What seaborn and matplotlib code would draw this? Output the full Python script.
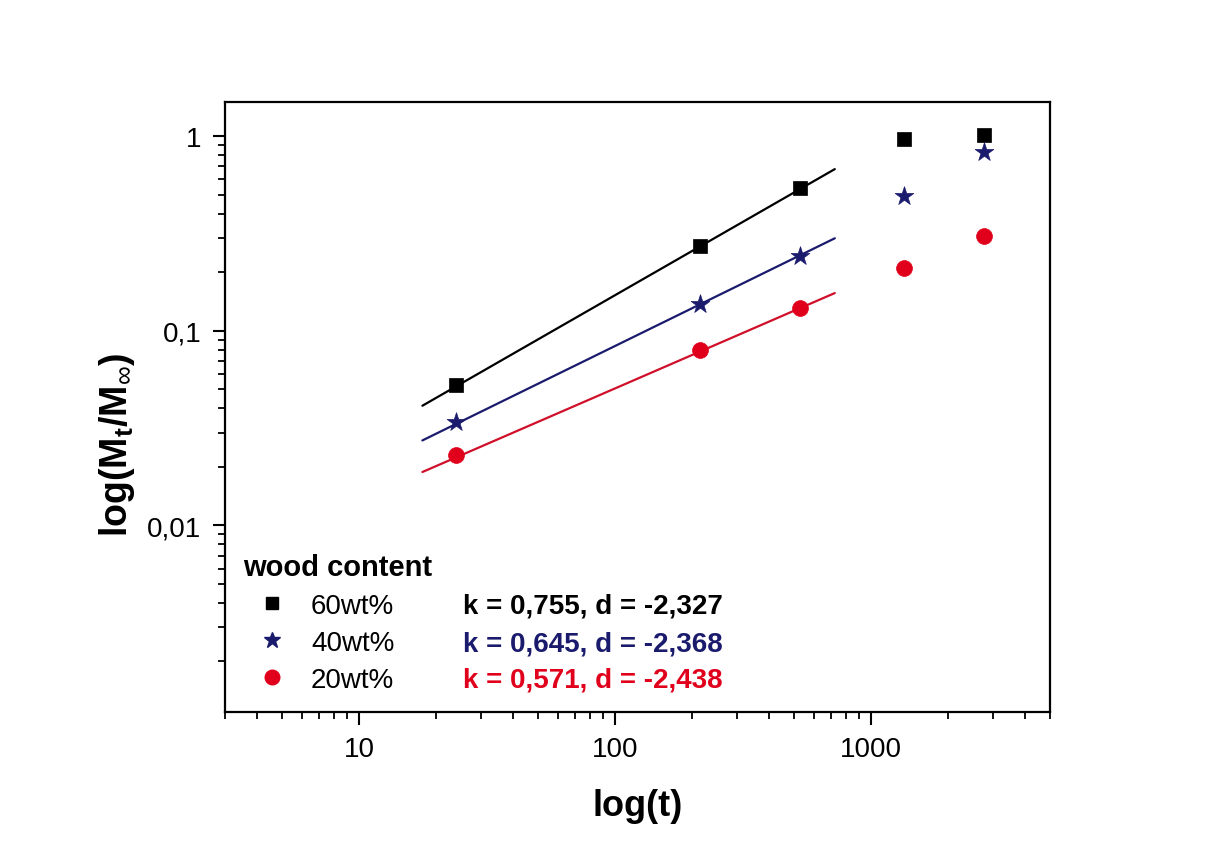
import numpy as np
import pandas as pd
import matplotlib
matplotlib.use("Agg")
import matplotlib.pyplot as plt
from matplotlib.ticker import FixedLocator, FuncFormatter, LogLocator, NullFormatter
from matplotlib.lines import Line2D
import seaborn as sns

# ---- data ----
series = ["60wt%", "40wt%", "20wt%"]
t_hours = [24, 215, 530, 1346, 2750]
m_60 = [0.0528, 0.273, 0.541, 0.965, 1.01]
m_40 = [0.0340, 0.1375, 0.2424, 0.492, 0.828]
m_20 = [0.0229, 0.0799, 0.131, 0.210, 0.307]
fit_k = [0.755, 0.645, 0.571]
fit_d = [-2.327, -2.368, -2.438]
fit_range = [17.7, 722]
x_ticks = [10, 100, 1000]
y_ticks = [0.01, 0.1, 1]

colors = ["#000000", "#1b1b6e", "#e0001b"]
line_colors = ["#000000", "#1b1b6e", "#d0102a"]
markers = ["s", "*", "o"]
msizes = [100, 200, 130]

sns.set_theme(style="ticks")
plt.rcParams["font.family"] = ["Liberation Sans", "DejaVu Sans"]
plt.rcParams["mathtext.fontset"] = "custom"
plt.rcParams["mathtext.rm"] = "Liberation Sans"
plt.rcParams["mathtext.bf"] = "Liberation Sans:bold"
plt.rcParams["mathtext.it"] = "Liberation Sans:italic"
for key in ["text.color", "axes.labelcolor", "xtick.color", "ytick.color",
            "axes.edgecolor"]:
    plt.rcParams[key] = "black"

fig = plt.figure(figsize=(12.15, 8.45), dpi=100)
fig.patch.set_facecolor("white")
ax = fig.add_axes([225 / 1215, 1 - 713 / 845, 825 / 1215, 610 / 845])
ax.set_facecolor("white")

values = [m_60, m_40, m_20]
for name, vals, c, lc, mk, ms, k, d in zip(series, values, colors, line_colors,
                                            markers, msizes, fit_k, fit_d):
    fit_df = pd.DataFrame({"t": fit_range,
                           "M": [10 ** d * tt ** k for tt in fit_range]})
    sns.lineplot(data=fit_df, x="t", y="M", color=lc, linewidth=1.6, ax=ax,
                 zorder=2)
    df = pd.DataFrame({"t": t_hours, "M": vals})
    sns.scatterplot(data=df, x="t", y="M", color=c, marker=mk, s=ms,
                    edgecolor=c, linewidth=0.5, ax=ax, zorder=3)

ax.set_xscale("log")
ax.set_yscale("log")
ax.set_xlim(3, 5000)
ax.set_ylim(0.0011, 1.5)

ax.xaxis.set_major_locator(FixedLocator(x_ticks))
ax.yaxis.set_major_locator(FixedLocator(y_ticks))
ax.xaxis.set_minor_locator(LogLocator(base=10, subs=np.arange(2, 10)))
ax.yaxis.set_minor_locator(LogLocator(base=10, subs=np.arange(2, 10)))
fmt = FuncFormatter(lambda v, p: ("%g" % v).replace(".", ","))
ax.xaxis.set_major_formatter(fmt)
ax.yaxis.set_major_formatter(fmt)
ax.xaxis.set_minor_formatter(NullFormatter())
ax.yaxis.set_minor_formatter(NullFormatter())

for s in ax.spines.values():
    s.set_linewidth(1.6)
    s.set_color("black")
ax.tick_params(which="major", direction="out", length=9, width=1.5,
               labelsize=20, pad=8, colors="black", top=False, right=False)
ax.tick_params(which="minor", direction="out", length=5, width=1.3,
               top=False, right=False, colors="black")

ax.set_xlabel("log(t)", fontsize=26, fontweight="bold", color="black")
ax.set_ylabel(r"log(M$_{\mathbf{t}}$/M$_{\infty}$)", fontsize=27,
              fontweight="bold", color="black")
ax.xaxis.set_label_coords(0.5, -0.125)
ax.yaxis.set_label_coords(-0.107, 0.44)

handles = [Line2D([], [], linestyle="none", marker=mk, color=c,
                  markersize=ms_, markeredgecolor=c)
           for mk, c, ms_ in zip(markers, colors, [9, 12, 10.5])]
leg = ax.legend(handles, series, title="wood content", loc="upper left",
                bbox_to_anchor=(0.0218, 0.26), frameon=False, fontsize=20,
                title_fontproperties={"weight": "bold", "size": 21},
                alignment="left", borderpad=0, borderaxespad=0,
                handlelength=2.1, handletextpad=0.35, labelspacing=0.4,
                labelcolor="black")
leg.get_title().set_color("black")

ytxt = [0.174, 0.113, 0.054]
for k, d, c, yy in zip(fit_k, fit_d, colors, ytxt):
    label = ("k = %.3f, d = %.3f" % (k, d)).replace(".", ",")
    ax.text(0.2885, yy, label, transform=ax.transAxes, color=c, fontsize=20,
            fontweight="bold", ha="left", va="center")

fig.savefig("out.png", dpi=100, facecolor="white")
